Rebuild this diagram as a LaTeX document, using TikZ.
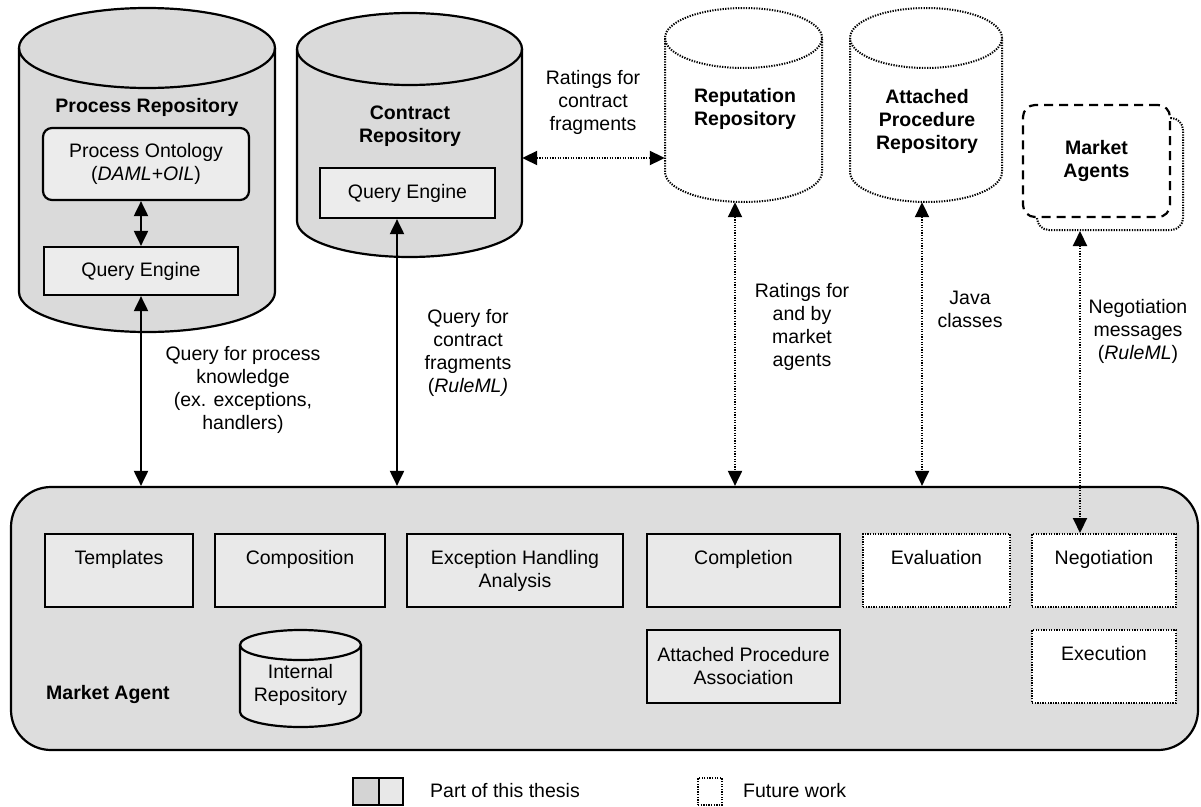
\documentclass[tikz,border=0pt]{standalone}
\usepackage{fontspec}
\setmainfont{Liberation Sans}
\usetikzlibrary{arrows.meta,fit}
\definecolor{cylgray}{RGB}{218,218,218}
\definecolor{agentgray}{RGB}{221,221,221}
\definecolor{boxgray}{RGB}{233,233,233}
\definecolor{ontgray}{RGB}{236,236,236}
\definecolor{legdark}{RGB}{212,212,212}
\definecolor{leglight}{RGB}{232,232,232}
\newcommand{\drawcyl}[6]{%
  \pgfmathsetmacro{\cylcx}{(#2+#3)/2}%
  \pgfmathsetmacro{\cylrx}{(#3-#2)/2}%
  \path[#1,draw=none] (#2,#4) -- (#2,#5) arc[start angle=180,end angle=360,x radius=\cylrx pt,y radius=#6pt] -- (#3,#4) arc[start angle=0,end angle=180,x radius=\cylrx pt,y radius=#6pt] -- cycle;
  \path[#1,fill=none] (#2,#4) -- (#2,#5) arc[start angle=180,end angle=360,x radius=\cylrx pt,y radius=#6pt] -- (#3,#4);
  \path[#1,fill=none] (\cylcx,#4) ellipse[x radius=\cylrx pt,y radius=#6pt];
}
\begin{document}
\begin{tikzpicture}[x=1pt,y=-1pt,
  txt/.style={font=\fontsize{19.5}{23}\selectfont, align=center, inner sep=0pt, text=black},
  btxt/.style={font=\fontsize{19.5}{23}\selectfont\bfseries, align=center, inner sep=0pt, text=black},
  solidln/.style={draw=black, line width=2.2pt},
  dotln/.style={draw=black, line width=2pt, dash pattern=on 1.3pt off 1.3pt},
  dashln/.style={draw=black, line width=2.2pt, dash pattern=on 9pt off 6pt},
  boxA/.style={txt, solidln, fill=boxgray, rectangle, minimum height=73pt},
  boxF/.style={txt, dotln, fill=white, rectangle, minimum height=73pt},
  arr/.style={draw=black, line width=2pt, {Triangle[length=15pt,width=14pt]}-{Triangle[length=15pt,width=14pt]}},
  dotarr/.style={arr, dash pattern=on 1.3pt off 1.3pt},
  area/.style={inner sep=0pt, draw=none}
]
\useasboundingbox (0,0) rectangle (1201,806);

% ---------- Market Agent container ----------
\node[solidln, fill=agentgray, rounded corners=40pt, minimum width=1187pt, minimum height=263pt, inner sep=0pt] (magent) at (604.5,618.5) {};
\node[btxt, anchor=west] (magentlbl) at (46,694) {Market Agent};

% ---------- Process Repository ----------
\drawcyl{solidln, fill=cylgray}{19}{275}{48}{292}{40}
\node[area, fit={(19,8) (275,332)}] (procrepo) {};
\node[btxt] (proctitle) at (147,107) {Process Repository};
\node[txt, solidln, fill=ontgray, rounded corners=9pt, minimum width=206pt, minimum height=72pt] (pont) at (146,164) {Process Ontology\\(\textit{DAML+OIL})};
\node[txt, solidln, fill=ontgray, minimum width=194pt, minimum height=48pt] (pqe) at (141,271) {Query Engine};

% ---------- Contract Repository ----------
\drawcyl{solidln, fill=cylgray}{297}{522}{49}{221}{36}
\node[area, fit={(297,13) (522,257)}] (contrepo) {};
\node[btxt] (conttitle) at (410,126.5) {Contract\\Repository};
\node[txt, solidln, fill=ontgray, minimum width=175pt, minimum height=50pt] (cqe) at (407.5,193) {Query Engine};

% ---------- Reputation Repository ----------
\drawcyl{dotln, fill=white}{665}{822}{38}{172}{30}
\node[area, fit={(665,8) (822,202)}] (reprepo) {};
\node[btxt] (reptitle) at (745,108.5) {Reputation\\Repository};

% ---------- Attached Procedure Repository ----------
\drawcyl{dotln, fill=white}{850}{1002}{38}{172}{30}
\node[area, fit={(850,8) (1002,202)}] (aprepo) {};
\node[btxt] (aptitle) at (927,121) {Attached\\Procedure\\Repository};

% ---------- Market Agents ----------
\node[dotln, fill=white, rounded corners=12pt, minimum width=146pt, minimum height=112pt, inner sep=0pt] (magback) at (1110,174) {};
\node[btxt, dashln, fill=white, rounded corners=12pt, minimum width=147pt, minimum height=112pt] (magfront) at (1096.5,161) {Market\\Agents};

% ---------- Components inside Market Agent ----------
\node[boxA, minimum width=148pt] (tmpl) at (119,570.5) {Templates\\\phantom{Ag}};
\node[boxA, minimum width=170pt] (comp) at (300,570.5) {Composition\\\phantom{Ag}};
\node[boxA, minimum width=216pt] (exc) at (515,570.5) {Exception Handling\\Analysis};
\node[boxA, minimum width=193pt] (compl) at (743.5,570.5) {Completion\\\phantom{Ag}};
\node[boxF, minimum width=147pt] (evalb) at (936.5,570.5) {Evaluation\\\phantom{Ag}};
\node[boxF, minimum width=144pt] (nego) at (1104,570.5) {Negotiation\\\phantom{Ag}};
\node[boxA, minimum width=193pt] (apa) at (743.5,666.5) {Attached Procedure\\Association};
\node[boxF, minimum width=144pt] (exec) at (1104,666.5) {Execution\\\phantom{Ag}};

\drawcyl{solidln, fill=boxgray}{240}{361}{645}{712}{15}
\node[area, fit={(240,630) (361,727)}] (intrepo) {};
\node[txt] (inttitle) at (300.5,684.5) {Internal\\Repository};

% ---------- Labels ----------
\node[txt] (lblq1) at (243,389.5) {Query for process\\knowledge\\(ex. exceptions,\\handlers)};
\node[txt] (lblq2) at (468,353) {Query for\\contract\\fragments\\(\textit{RuleML)}};
\node[txt] (lblr1) at (593,102) {Ratings for\\contract\\fragments};
\node[txt] (lblr2) at (802,326.5) {Ratings for\\and by\\market\\agents};
\node[txt] (lblj) at (970,309) {Java\\classes};
\node[txt] (lbln) at (1138,331) {Negotiation\\messages\\(\textit{RuleML})};

% ---------- Connectors ----------
\coordinate (cqx) at (397,0);
\coordinate (repx) at (735,0);
\coordinate (apx) at (922,0);
\coordinate (negx) at (1080,0);
\coordinate (hy) at (0,158);
\draw[arr] (pqe.north) -- (pqe.north |- pont.south);
\draw[arr] (pqe.south) -- (pqe.south |- magent.north);
\draw[arr] (cqe.south -| cqx) -- (magent.north -| cqx);
\draw[dotarr] (contrepo.east |- hy) -- (reprepo.west |- hy);
\draw[dotarr] (reprepo.south -| repx) -- (magent.north -| repx);
\draw[dotarr] (aprepo.south -| apx) -- (magent.north -| apx);
\draw[dotarr] (magback.south -| negx) -- (nego.north -| negx);

% ---------- Legend ----------
\node[solidln, fill=legdark, minimum width=26pt, minimum height=27pt, inner sep=0pt] (legA) at (366,791.5) {};
\node[solidln, fill=leglight, minimum width=24pt, minimum height=27pt, inner sep=0pt] (legB) at (391,791.5) {};
\node[txt, anchor=west] (legAt) at (430,791) {Part of this thesis};
\node[dotln, fill=white, minimum width=24pt, minimum height=27pt, inner sep=0pt] (legC) at (710,791.5) {};
\node[txt, anchor=west] (legCt) at (743,791) {Future work};
\end{tikzpicture}
\end{document}
